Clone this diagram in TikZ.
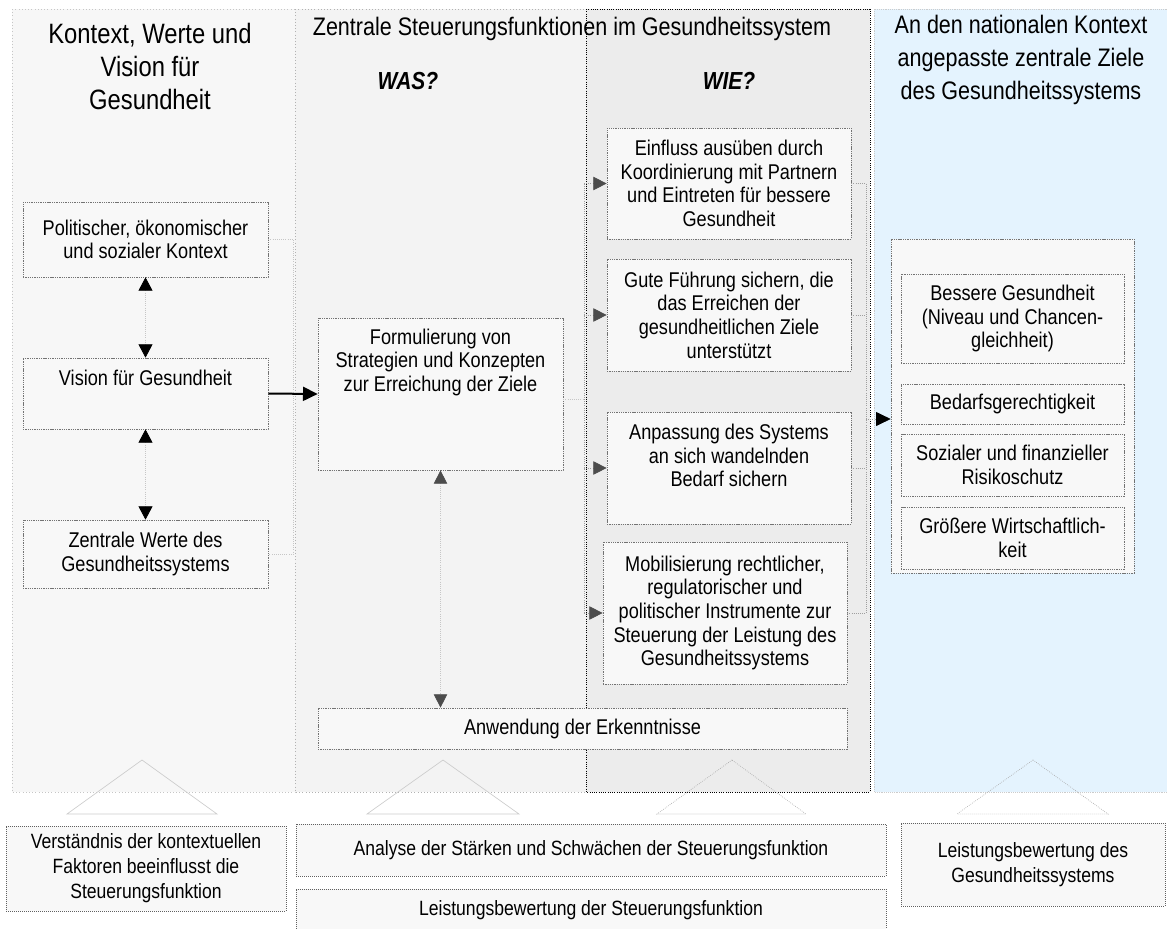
\documentclass[tikz,border=0pt]{standalone}
\usepackage{fontspec}
\setmainfont{Liberation Sans}[FakeStretch=0.85]
\usetikzlibrary{arrows.meta,positioning}

\definecolor{panelL}{RGB}{247,247,247}
\definecolor{panelM}{RGB}{243,243,243}
\definecolor{panelW}{RGB}{236,236,236}
\definecolor{panelR}{RGB}{228,243,254}
\definecolor{boxfill}{RGB}{248,248,248}
\definecolor{boxline}{RGB}{115,115,115}

\tikzset{
  sz/.style 2 args={minimum width=#1*0.75pt, minimum height=#2*0.75pt},
  box/.style={draw=boxline, fill=boxfill, dash pattern=on 1pt off 0.7pt, line width=0.5pt,
    align=center, inner sep=2pt, font=\fontsize{16}{17.75}\selectfont},
  boxtext/.style={align=center, inner sep=0pt, font=\fontsize{16}{17.75}\selectfont},
  note/.style={draw=gray!75!black, fill=boxfill, densely dotted, line width=0.5pt,
    align=center, inner sep=2pt, font=\fontsize{15.5}{18.75}\selectfont},
  head/.style={align=center, inner sep=0pt, font=\fontsize{19}{24.75}\selectfont},
  ask/.style={inner sep=0pt, font=\fontsize{18.5}{21}\selectfont\bfseries\itshape},
  conn/.style={draw=gray!45, densely dotted, line width=0.6pt},
  darkconn/.style={draw=gray!75, densely dotted, line width=0.6pt},
  blk/.tip={Triangle[length=10pt,width=10.5pt,color=black]},
  drk/.tip={Triangle[length=10pt,width=10pt,color=black!70]},
  tri/.style={draw=gray!40, line width=0.5pt},
  darktri/.style={draw=gray!70, densely dotted, line width=0.5pt}
}

\begin{document}
\begin{tikzpicture}[x=0.75pt,y=0.75pt,yscale=-1,xscale=1]
\useasboundingbox (0,0) rectangle (1167,928);
%Panels
\draw[draw=gray!45, dotted, fill=panelL] (12,9) rectangle (295,792);
\draw[draw=gray!60, dotted, fill=panelM] (295,9) rectangle (586,792);
\draw[draw=black, densely dotted, line width=0.7pt, fill=panelW] (586,9) rectangle (870,792);
\draw[draw=gray!40, densely dotted, fill=panelR] (874,9) rectangle (1168,792);

%Headings
\node[head, font=\fontsize{21}{24.75}\selectfont] (ctxhead) at (150,66) {Kontext, Werte und\\Vision für\\Gesundheit};
\node[head, anchor=base] (stfhead) at (572,35) {Zentrale Steuerungsfunktionen im Gesundheitssystem};
\node[head] (goalhead) at (1021,60) {An den nationalen Kontext\\angepasste zentrale Ziele\\des Gesundheitssystems};
\node[ask, anchor=base] (was) at (408,89) {WAS?};
\node[ask, anchor=base] (wie) at (729,89) {WIE?};

%Context, values, vision
\node[box, sz={245}{75}] (pol) at (145.5,239.5) {Politischer, ökonomischer\\und sozialer Kontext};
\node[box, sz={245}{71}] (vision) at (145.5,393.5) {};
\node[boxtext, below=9pt of vision.north] (visiontxt) {Vision für Gesundheit};
\node[box, sz={245}{68}] (werte) at (145.5,554) {Zentrale Werte des\\Gesundheitssystems};

%WAS
\node[box, sz={245}{152}] (form) at (440.5,394) {};
\node[boxtext, below=8pt of form.north] (formtxt) {Formulierung von\\Strategien und Konzepten\\zur Erreichung der Ziele};
\node[box, sz={529}{41}] (anw) at (582.5,728.5) {Anwendung der Erkenntnisse};

%WIE
\node[box, sz={244}{111}] (einfl) at (729,183.5) {Einfluss ausüben durch\\Koordinierung mit Partnern\\und Eintreten für bessere\\Gesundheit};
\node[box, sz={244}{112}] (gute) at (729,315) {Gute Führung sichern, die\\das Erreichen der\\gesundheitlichen Ziele\\unterstützt};
\node[box, sz={244}{112}] (anp) at (729,468) {};
\node[boxtext, below=9pt of anp.north] (anptxt) {Anpassung des Systems\\an sich wandelnden\\Bedarf sichern};
\node[box, sz={244}{142}] (mob) at (725,613) {Mobilisierung rechtlicher,\\regulatorischer und\\politischer Instrumente zur\\Steuerung der Leistung des\\Gesundheitssystems};

%Goals
\node[box, sz={243}{334}] (goals) at (1012.5,406) {};
\node[box, sz={223}{89}] (bess) at (1012.5,318.5) {Bessere Gesundheit\\(Niveau und Chancen-\\gleichheit)};
\node[box, sz={223}{40}] (bedarf) at (1012.5,404) {Bedarfsgerechtigkeit};
\node[box, sz={223}{62}] (sozial) at (1012.5,465) {Sozialer und finanzieller\\Risikoschutz};
\node[box, sz={223}{62}] (groesser) at (1012.5,538) {Größere Wirtschaftlich-\\keit};

%Connectors
\draw[conn, blk-blk] (pol.south) -- (vision.north);
\draw[conn, blk-blk] (vision.south) -- (werte.north);
\draw[conn] (pol.east) -- ++(25,0) |- (werte.east);
\draw[line width=1.5pt, -{Triangle[length=11pt,width=10.5pt]}] (vision.east) -- (form.west);
\draw[conn, drk-drk] (form.south) -- (form.south |- anw.north);

\coordinate (fork) at (584,399);
\coordinate (join) at (866,419);
\draw[conn] (form.east |- fork) -- (fork);
\draw[darkconn] (fork |- einfl.west) -- (fork |- mob.west);
\foreach \n in {einfl,gute,anp,mob}{
  \draw[darkconn, -drk] (fork |- \n.west) -- (\n.west);
  \draw[darkconn] (\n.east) -- (join |- \n.east);
}
\draw[darkconn] (join |- einfl.east) -- (join |- mob.east);
\draw[darkconn, -{Triangle[length=11pt,width=10.5pt,color=black]}] (join) -- (join -| goals.west);

%Bottom wedges
\draw[tri] (142,760) -- (67,814) -- (217,814) -- cycle;
\draw[tri] (443,760) -- (367,814) -- (519,814) -- cycle;
\draw[darktri] (732,760) -- (657,814) -- (806,814) -- cycle;
\draw[darktri] (1033,760) -- (957,814) -- (1108,814) -- cycle;

%Assessment
\node[note, sz={280}{85}] (verst) at (146,868.5) {Verständnis der kontextuellen\\Faktoren beeinflusst die\\Steuerungsfunktion};
\node[note, sz={590}{52}] (analyse) at (591,850) {Analyse der Stärken und Schwächen der Steuerungsfunktion};
\node[note, sz={590}{43}] (leistS) at (591,910.5) {Leistungsbewertung der Steuerungsfunktion};
\node[note, sz={264}{83}] (leistG) at (1033,864.5) {Leistungsbewertung des\\Gesundheitssystems};
\end{tikzpicture}
\end{document}
